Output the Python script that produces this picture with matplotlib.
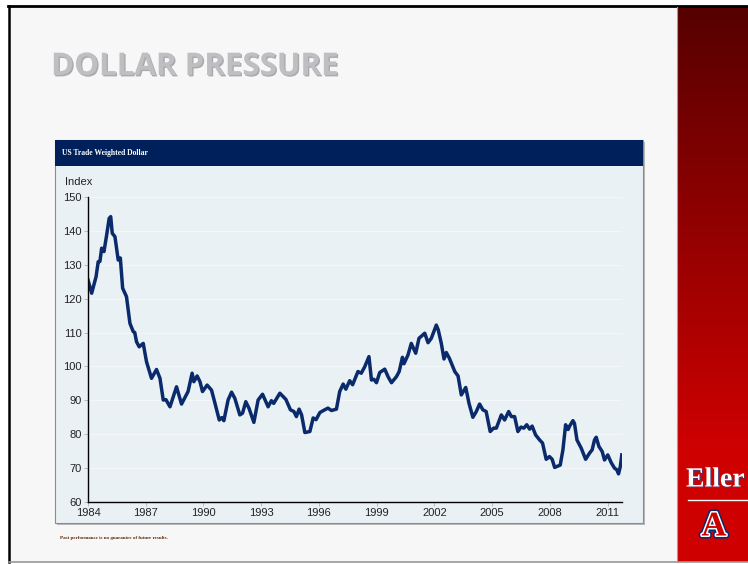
import matplotlib
matplotlib.use("Agg")
import matplotlib.pyplot as plt
import matplotlib.patheffects as pe
from matplotlib.patches import Rectangle
import numpy as np

# US trade weighted dollar index (decimal year, index)
years = [
    1984.00, 1984.19, 1984.42, 1984.53, 1984.62, 1984.71, 1984.83, 1984.97,
    1985.10, 1985.18, 1985.26, 1985.40, 1985.57, 1985.68, 1985.80, 1986.00,
    1986.18, 1986.35, 1986.43, 1986.52, 1986.66, 1986.87, 1987.04, 1987.30,
    1987.56, 1987.74, 1987.91, 1988.05, 1988.26, 1988.60, 1988.86, 1989.20,
    1989.41, 1989.50, 1989.67, 1989.82, 1989.95, 1990.19, 1990.42, 1990.60,
    1990.82, 1990.95, 1991.06, 1991.28, 1991.46, 1991.63, 1991.89, 1992.03,
    1992.20, 1992.37, 1992.62, 1992.84, 1993.07, 1993.36, 1993.53, 1993.65,
    1993.97, 1994.28, 1994.52, 1994.70, 1994.83, 1994.97, 1995.10, 1995.27,
    1995.53, 1995.70, 1995.85, 1996.05, 1996.30, 1996.47, 1996.65, 1996.91,
    1997.08, 1997.26, 1997.40, 1997.60, 1997.75, 1998.03, 1998.20, 1998.38,
    1998.60, 1998.73, 1998.86, 1998.99, 1999.16, 1999.42, 1999.60, 1999.77,
    2000.03, 2000.17, 2000.34, 2000.42, 2000.63, 2000.80, 2001.03, 2001.20,
    2001.50, 2001.67, 2001.84, 2002.10, 2002.20, 2002.36, 2002.50, 2002.62,
    2002.78, 2003.06, 2003.23, 2003.40, 2003.63, 2003.80, 2004.00, 2004.17,
    2004.35, 2004.52, 2004.69, 2004.90, 2005.08, 2005.22, 2005.48, 2005.65,
    2005.86, 2006.00, 2006.17, 2006.34, 2006.50, 2006.65, 2006.80, 2006.95,
    2007.08, 2007.26, 2007.47, 2007.62, 2007.81, 2007.98, 2008.12, 2008.25,
    2008.42, 2008.54, 2008.68, 2008.82, 2008.95, 2009.03, 2009.20, 2009.28,
    2009.41, 2009.63, 2009.86, 2010.06, 2010.20, 2010.32, 2010.41, 2010.55,
    2010.72, 2010.84, 2011.01, 2011.19, 2011.36, 2011.48, 2011.57, 2011.66,
    2011.74]
index = [
    125.5, 121.6, 126.5, 130.9, 131.0, 134.9, 133.9, 138.8,
    143.7, 144.2, 139.3, 138.3, 131.4, 132.0, 123.1, 120.6,
    112.7, 110.3, 110.0, 107.3, 105.8, 106.8, 101.4, 96.5,
    99.1, 96.5, 90.1, 90.2, 88.1, 94.0, 88.9, 92.6,
    98.0, 95.5, 97.2, 95.5, 92.6, 94.5, 93.0, 89.1,
    84.2, 84.9, 84.0, 90.1, 92.4, 90.6, 85.7, 86.2,
    89.6, 87.6, 83.5, 90.1, 91.8, 88.1, 89.9, 89.1,
    92.1, 90.3, 87.2, 86.7, 85.2, 87.4, 85.7, 80.5,
    80.8, 84.8, 84.3, 86.4, 87.2, 87.7, 87.0, 87.4,
    92.6, 94.8, 93.3, 95.8, 94.6, 98.5, 98.0, 99.9,
    102.9, 96.0, 96.2, 95.2, 98.2, 99.2, 96.9, 95.2,
    97.0, 98.5, 102.7, 100.8, 103.4, 106.8, 103.9, 108.3,
    109.8, 107.0, 108.3, 112.2, 110.8, 106.8, 102.2, 104.1,
    102.4, 98.5, 97.2, 91.6, 93.8, 89.1, 85.0, 86.6,
    88.9, 87.2, 86.7, 80.8, 81.8, 81.8, 85.7, 84.2,
    86.7, 85.2, 85.2, 80.8, 82.1, 81.8, 82.8, 81.5,
    82.4, 79.8, 78.3, 77.4, 72.6, 73.4, 72.6, 70.2,
    70.6, 70.9, 75.4, 82.8, 81.4, 82.4, 84.0, 83.2,
    78.3, 75.9, 72.6, 74.4, 75.4, 78.3, 79.1, 76.4,
    74.9, 72.4, 73.9, 71.6, 70.0, 69.5, 68.3, 70.4,
    73.9]

xticks = [1984, 1987, 1990, 1993, 1996, 1999, 2002, 2005, 2008, 2011]
yticks = [60, 70, 80, 90, 100, 110, 120, 130, 140, 150]

W, H = 748, 564
fig = plt.figure(figsize=(W / 100, H / 100), dpi=100, facecolor="white")

# slide background drawn in pixel coordinates
bg = fig.add_axes([0, 0, 1, 1], zorder=0)
bg.set_xlim(0, W)
bg.set_ylim(H, 0)
bg.axis("off")
bg.add_patch(Rectangle((9, 6), W - 9, H - 8, facecolor="#f7f7f7", edgecolor="none"))
bg.plot([8, W], [6, 6], color="black", lw=2.0)
bg.plot([9, 9], [6, H - 2], color="black", lw=1.8)
bg.plot([9, W], [H - 2, H - 2], color="#999999", lw=1.2)

# red side band with vertical gradient
top = np.array([0x56, 0x00, 0x00]) / 255
bot = np.array([0xcf, 0x00, 0x00]) / 255
t = np.clip(np.linspace(0, 1, 300) * 1.25, 0, 1)[:, None]
grad = (top * (1 - t) + bot * t)[:, None, :]
bg.imshow(grad, extent=(677, W, H - 2, 7), aspect="auto", zorder=1)
bg.plot([677, 677], [7, H - 2], color="#a0a0a0", lw=0.8, zorder=2)
bg.text(686, 480, "Eller", color="white", fontsize=20, fontweight="bold",
        family="Liberation Serif", va="center", ha="left", zorder=3, clip_on=True,
        path_effects=[pe.withSimplePatchShadow(offset=(1, -1), shadow_rgbFace="#334488", alpha=0.8)])
bg.plot([688, W], [500, 500], color="white", lw=1.0, zorder=3)
bg.text(714, 527, "A", color="#cc0000", fontsize=25, fontweight="bold",
        family="Liberation Serif", ha="center", va="center", zorder=3,
        path_effects=[pe.Stroke(linewidth=4.5, foreground="#0c2a6b"),
                      pe.Stroke(linewidth=2.2, foreground="white"), pe.Normal()])

# title
bg.text(51, 67, "DOLLAR PRESSURE", color="#bfbfc3", fontsize=22.5, fontweight="bold",
        family="Open Sans", ha="left", va="center", zorder=3,
        path_effects=[pe.withSimplePatchShadow(offset=(1, -1), shadow_rgbFace="#8a8a8e", alpha=0.7)])

# chart panel
bg.add_patch(Rectangle((57, 142), 588, 383, facecolor="#b8b8b8", edgecolor="none", zorder=2))
bg.add_patch(Rectangle((55, 140), 588, 383, facecolor="#e9f1f5", edgecolor="#8c8c8c", lw=0.8, zorder=3))
bg.add_patch(Rectangle((55, 140), 588, 26, facecolor="#00205b", edgecolor="none", zorder=4))
bg.text(62, 153, "US Trade Weighted Dollar", color="white", fontsize=5.5, fontweight="bold",
        family="Liberation Serif", ha="left", va="center", zorder=5)
bg.text(65, 182, "Index", color="#222222", fontsize=8, family="Liberation Sans",
        ha="left", va="center", zorder=5)
bg.text(60, 538, "Past performance is no guarantee of future results.", color="#5a2a0a",
        fontsize=3.6, fontweight="bold", family="Liberation Serif", ha="left", va="center", zorder=5)

# the chart itself
ax = fig.add_axes([88 / W, 1 - 502 / H, (622 - 88) / W, 305 / H], zorder=5)
ax.patch.set_visible(False)
ax.plot(years, index, color="#0a2a6b", lw=2.5, solid_joinstyle="round")
ax.set_xlim(1984, 2011.75)
ax.set_ylim(60, 150)
ax.set_xticks(xticks)
ax.set_yticks(yticks)
ax.yaxis.grid(True, color="#f3f7f9", lw=0.9)
ax.set_axisbelow(True)
for s in ["top", "right"]:
    ax.spines[s].set_visible(False)
for s in ["left", "bottom"]:
    ax.spines[s].set_color("black")
    ax.spines[s].set_linewidth(1.0)
ax.tick_params(axis="both", length=3, width=0.6, color="#b0b0b0", labelsize=8,
               labelcolor="#222222", pad=1.5)
for lab in ax.get_xticklabels() + ax.get_yticklabels():
    lab.set_family("Liberation Sans")

fig.savefig("out.png", dpi=100, facecolor=fig.get_facecolor())
